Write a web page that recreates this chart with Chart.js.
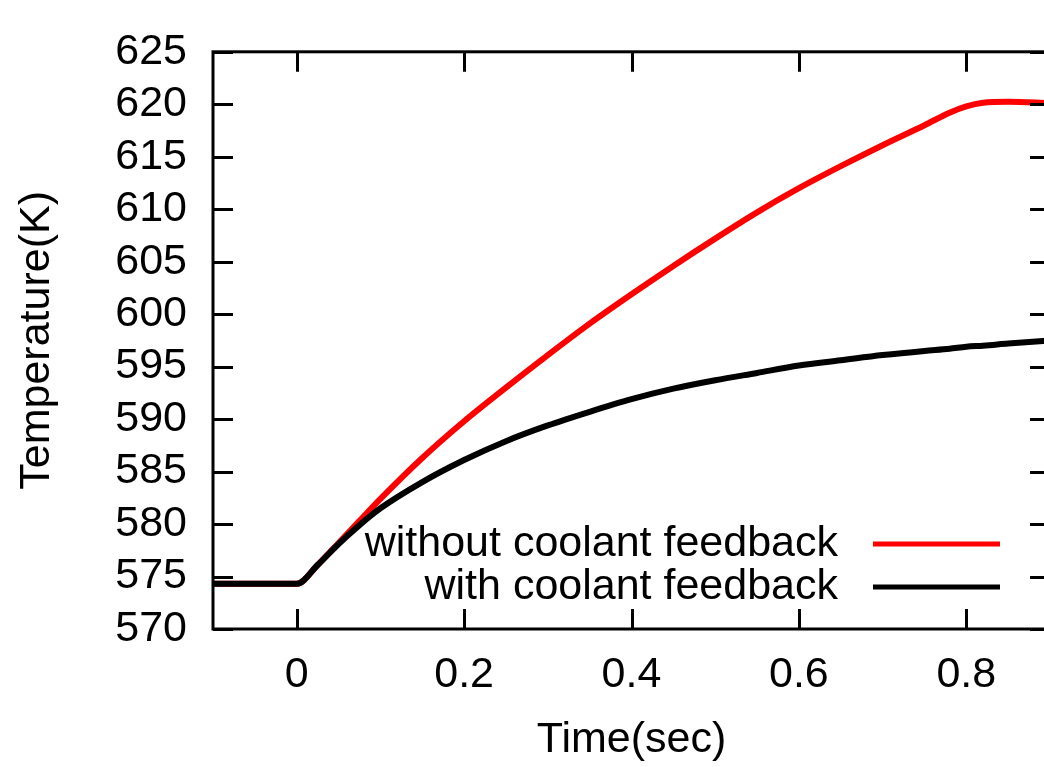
<!DOCTYPE html>
<html>
<head>
<meta charset="utf-8">
<script src="https://cdn.jsdelivr.net/npm/chart.js@4/dist/chart.umd.min.js"></script>
<style>
  html, body { margin: 0; padding: 0; background: #fff; overflow: hidden; }
  #wrap { width: 1044px; height: 767px; overflow: hidden; }
</style>
</head>
<body>
<div id="wrap"><canvas id="temp-chart" width="1052" height="767"></canvas></div>
<script>
// time axis (s) and core temperatures (K)
var timeSec = [-0.1, 0, 0.025, 0.05, 0.075, 0.1, 0.15, 0.2, 0.25, 0.3, 0.35, 0.4, 0.45, 0.5,
  0.55, 0.6, 0.65, 0.7, 0.75, 0.78, 0.8, 0.82, 0.85, 0.9];
var tempWithout = [574.3, 574.3, 576.1, 578.2, 580.3, 582.4, 586.3, 589.8, 593.0, 596.1, 599.1, 601.9, 604.6, 607.2,
  609.7, 612.0, 614.1, 616.1, 618.0, 619.2, 619.8, 620.15, 620.25, 620.1];
var tempWith = [574.3, 574.3, 576.1, 578.1, 579.9, 581.5, 584.0, 586.1, 587.9, 589.4, 590.7, 591.9, 592.9, 593.7,
  594.4, 595.1, 595.6, 596.1, 596.5, 596.7, 596.9, 597.0, 597.2, 597.5];
var seriesLabels = ['without coolant feedback', 'with coolant feedback'];
var seriesColors = ['#ff0000', '#000000'];
var xTicks = [0, 0.2, 0.4, 0.6, 0.8];
var yTicks = [570, 575, 580, 585, 590, 595, 600, 605, 610, 615, 620, 625];

function toPoints(xs, ys) {
  var pts = [];
  for (var i = 0; i < xs.length; i++) pts.push({x: xs[i], y: ys[i]});
  return pts;
}

var FONT = {family: '"Liberation Sans", Arial, sans-serif', size: 43};
Chart.defaults.color = '#000';

// gnuplot style box with inward ticks on all four sides
var frameTicks = {
  id: 'frameTicks',
  afterDatasetsDraw: function (chart) {
    var ctx = chart.ctx, a = chart.chartArea, len = 20;
    var xs = chart.scales.x, ys = chart.scales.y;
    ctx.save();
    ctx.strokeStyle = '#000';
    ctx.lineWidth = 3;
    ctx.beginPath();
    xs.ticks.forEach(function (t) {
      var px = Math.round(xs.getPixelForValue(t.value)) + 0.5;
      ctx.moveTo(px, a.bottom); ctx.lineTo(px, a.bottom - len);
      ctx.moveTo(px, a.top); ctx.lineTo(px, a.top + len);
    });
    ys.ticks.forEach(function (t) {
      var py = Math.round(ys.getPixelForValue(t.value)) + 0.5;
      ctx.moveTo(a.left, py); ctx.lineTo(a.left + len, py);
      ctx.moveTo(a.right, py); ctx.lineTo(a.right - len, py);
    });
    ctx.stroke();
    ctx.strokeRect(a.left, a.top, a.right - a.left, a.bottom - a.top);

    // key: right-aligned labels with line samples
    ctx.font = FONT.size + 'px ' + FONT.family;
    ctx.textAlign = 'right';
    ctx.textBaseline = 'middle';
    ctx.fillStyle = '#000';
    chart.data.datasets.forEach(function (ds, i) {
      var y = 544 + i * 43;
      ctx.fillText(ds.label, 838, y);
      ctx.strokeStyle = ds.borderColor;
      ctx.lineWidth = 5;
      ctx.beginPath();
      ctx.moveTo(873, y); ctx.lineTo(1000, y);
      ctx.stroke();
    });
    ctx.restore();
  }
};

new Chart(document.getElementById('temp-chart'), {
  type: 'line',
  data: {
    datasets: [
      {
        label: seriesLabels[0],
        data: toPoints(timeSec, tempWithout),
        borderColor: seriesColors[0],
        borderWidth: 6,
        pointRadius: 0,
        cubicInterpolationMode: 'monotone',
        order: 2
      },
      {
        label: seriesLabels[1],
        data: toPoints(timeSec, tempWith),
        borderColor: seriesColors[1],
        borderWidth: 6,
        pointRadius: 0,
        cubicInterpolationMode: 'monotone',
        order: 1
      }
    ]
  },
  options: {
    responsive: false,
    animation: false,
    layout: { padding: { top: 8, right: 2, left: 0, bottom: 0 } },
    plugins: { legend: { display: false }, tooltip: { enabled: false } },
    scales: {
      x: {
        type: 'linear',
        min: -0.1,
        max: 0.9,
        afterBuildTicks: function (s) { s.ticks = xTicks.map(function (v) { return {value: v}; }); },
        afterFit: function (s) { s.height = 138; },
        grid: { display: false, drawTicks: false },
        border: { display: false },
        ticks: {
          font: FONT,
          color: '#000',
          padding: 20,
          maxRotation: 0,
          autoSkip: false,
          callback: function (v) { return String(v); }
        },
        title: { display: true, text: 'Time(sec)', font: FONT, color: '#000', padding: { top: 0, bottom: 1 } }
      },
      y: {
        type: 'linear',
        min: 570,
        max: 625,
        afterBuildTicks: function (s) { s.ticks = yTicks.map(function (v) { return {value: v}; }); },
        afterFit: function (s) { s.width = 213; },
        grid: { display: false, drawTicks: false },
        border: { display: false },
        ticks: { font: FONT, color: '#000', padding: 26, autoSkip: false },
        title: { display: true, text: 'Temperature(K)', font: FONT, color: '#000', padding: { top: 11, bottom: 0 } }
      }
    }
  },
  plugins: [frameTicks]
});
</script>
</body>
</html>
